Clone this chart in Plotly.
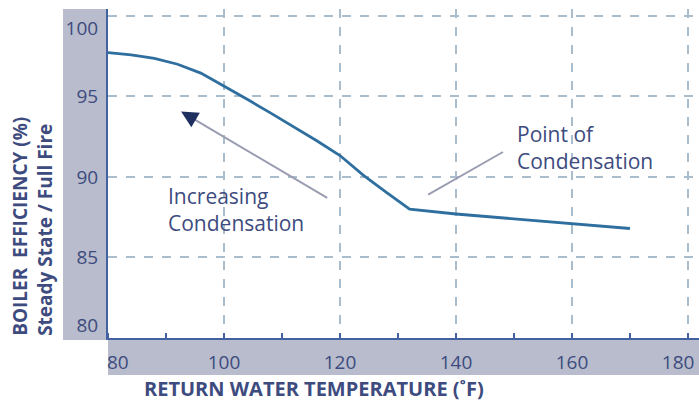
import plotly.graph_objects as go

# ---- data ----
temperature_f = [80, 84, 88, 92, 96, 100, 104, 108, 112, 116, 120, 124, 128, 132, 140, 150, 160, 170]
efficiency_pct = [97.72, 97.58, 97.36, 97.0, 96.45, 95.65, 94.82, 93.98, 93.12, 92.25, 91.33, 90.12, 89.05, 88.0,
                  87.7, 87.4, 87.1, 86.8]

x_ticks = [80, 100, 120, 140, 160, 180]
x_tick_text = ["\u00a0\u00a0\u00a0\u00a080", "100", "120", "140", "160", "180\u00a0\u00a0\u00a0\u00a0"]
y_ticks = [80, 85, 90, 95, 100]
y_tick_text = ["80<br> ", "85", "90", "95", " <br>100"]

NAVY = "#3d4b7e"
AXIS = "#4262a2"
CURVE = "#2f6f9f"
GRID = "#a9bdcd"
BAND = "#b8bccc"
FONT = "Open Sans"

fig = go.Figure()
fig.add_trace(go.Scatter(
    x=temperature_f, y=efficiency_pct, mode="lines",
    line=dict(color=CURVE, width=2.8),
    hoverinfo="skip", showlegend=False,
))

# gray bands behind tick labels
fig.add_shape(type="rect", xref="paper", yref="paper", x0=-0.0761, x1=0, y0=-0.006, y1=1,
              fillcolor=BAND, line_width=0, layer="below")
fig.add_shape(type="rect", xref="paper", yref="paper", x0=0, x1=1, y0=-0.1125, y1=0,
              fillcolor=BAND, line_width=0, layer="below")

# "Increasing Condensation" arrow: gray shaft + navy head
fig.add_shape(type="line", xref="x", yref="y", x0=117.8, y0=88.7, x1=94.3, y1=93.7,
              line=dict(color="#9a9db2", width=2))
fig.add_annotation(x=92.6, y=94.07, ax=95.3, ay=93.5, xref="x", yref="y", axref="x", ayref="y",
                   text="", showarrow=True, arrowhead=2, arrowsize=2.1, arrowwidth=1.6,
                   arrowcolor="#1f2f60")
fig.add_annotation(x=90.0, y=87.95, xref="x", yref="y", text="Increasing<br>Condensation",
                   showarrow=False, xanchor="left", yanchor="middle", align="left",
                   font=dict(family=FONT, size=21, color=NAVY))

# "Point of Condensation" pointer line
fig.add_shape(type="line", xref="x", yref="y", x0=135.2, y0=88.9, x1=148.1, y1=91.55,
              line=dict(color="#9a9db2", width=2))
fig.add_annotation(x=150.1, y=91.85, xref="x", yref="y", text="Point of<br>Condensation",
                   showarrow=False, xanchor="left", yanchor="middle", align="left",
                   font=dict(family=FONT, size=21, color=NAVY))

# y-axis title (two rotated lines)
fig.add_annotation(x=-0.128, y=0, xref="paper", yref="paper",
                   text="<b>BOILER  EFFICIENCY (%)</b><br><b>Steady State / Full Fire</b>",
                   textangle=-90, showarrow=False, xanchor="center", yanchor="bottom",
                   align="left", font=dict(family=FONT, size=19, color=NAVY))
# x-axis title
fig.add_annotation(x=0.057, y=-0.152, xref="paper", yref="paper",
                   text="<b>RETURN WATER TEMPERATURE (˚F)</b>", showarrow=False,
                   xanchor="left", yanchor="middle",
                   font=dict(family=FONT, size=20, color=NAVY))

fig.update_xaxes(
    range=[80, 181.9], tickvals=x_ticks, ticktext=x_tick_text, ticks="", showline=True,
    linecolor=AXIS, linewidth=2,
    showgrid=True, gridcolor=GRID, griddash="dash", gridwidth=1.5, zeroline=False,
    tickfont=dict(family=FONT, size=19, color=NAVY), ticklabelstandoff=6, automargin=False,
    ticklabeloverflow="allow",
    minor=dict(dtick=10, tick0=90, ticks="inside", ticklen=5, tickcolor=AXIS, tickwidth=2, showgrid=False),
)
fig.update_yaxes(
    range=[80, 100.43], tickvals=y_ticks, ticktext=y_tick_text, ticks="", showline=True,
    linecolor=AXIS, linewidth=2,
    showgrid=True, gridcolor=GRID, griddash="dash", gridwidth=1.5, zeroline=False,
    tickfont=dict(family=FONT, size=19, color=NAVY), ticklabelstandoff=4, automargin=False,
    ticklabeloverflow="allow",
)
fig.update_layout(
    width=699, height=409, margin=dict(l=108, r=0, t=9, b=71),
    paper_bgcolor="white", plot_bgcolor="white",
)
# remove the default page margin so the figure fills the window exactly
fig.write_html("out.html", config={"displayModeBar": False},
               post_script="document.body.style.margin='0';")
